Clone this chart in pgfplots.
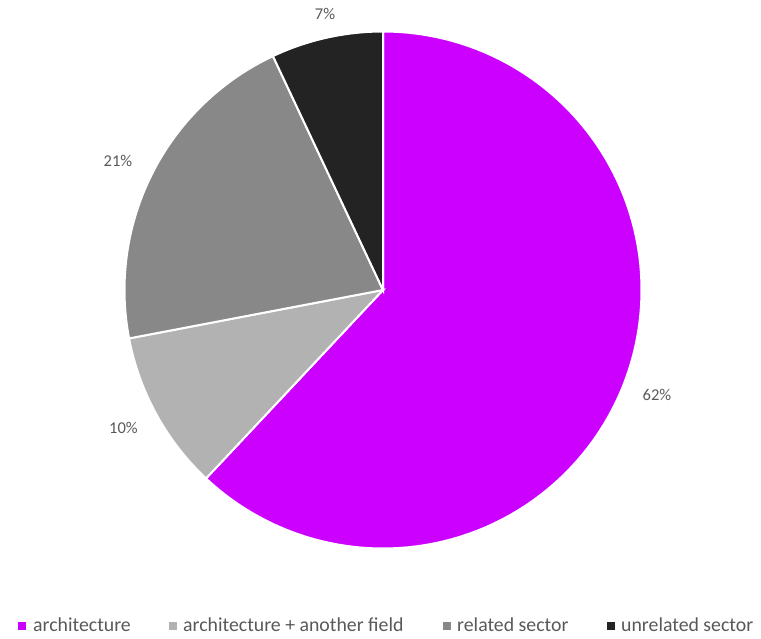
\documentclass[border=0pt]{standalone}
\usepackage{pgfplots}
\pgfplotsset{compat=1.18}
\usepackage{fontspec}
\setmainfont{Carlito}
\definecolor{cArch}{HTML}{CC00FF}
\definecolor{cArchOther}{HTML}{B2B2B2}
\definecolor{cRelated}{HTML}{888888}
\definecolor{cUnrelated}{HTML}{232323}
\definecolor{txt}{HTML}{595959}
\begin{document}
\begin{tikzpicture}
\begin{axis}[
  hide axis,
  x=1bp, y=1bp,
  xmin=0, xmax=761, ymin=0, ymax=639,
  clip=false,
]
\path (rel axis cs:0,0) rectangle (rel axis cs:1,1);
% slice shares in percent: 62, 10, 21, 7 (clockwise from 12 o'clock)
% architecture 62%
\addplot[fill=cArch, draw=white, line width=2bp, domain={90-3.6*62}:90, samples=160]
  ({383+258.5*cos(x)}, {349+258.5*sin(x)}) -- (axis cs:383,349) -- cycle;
% architecture + another field 10%
\addplot[fill=cArchOther, draw=white, line width=2bp, domain={90-3.6*72}:{90-3.6*62}, samples=40]
  ({383+258.5*cos(x)}, {349+258.5*sin(x)}) -- (axis cs:383,349) -- cycle;
% related sector 21%
\addplot[fill=cRelated, draw=white, line width=2bp, domain={90-3.6*93}:{90-3.6*72}, samples=70]
  ({383+258.5*cos(x)}, {349+258.5*sin(x)}) -- (axis cs:383,349) -- cycle;
% unrelated sector 7%
\addplot[fill=cUnrelated, draw=white, line width=2bp, domain={90-3.6*100}:{90-3.6*93}, samples=30]
  ({383+258.5*cos(x)}, {349+258.5*sin(x)}) -- (axis cs:383,349) -- cycle;

% data labels
\begin{scope}[every node/.style={text=txt, font=\fontsize{16.5bp}{19bp}\selectfont, inner sep=0pt}]
\node at (axis cs:657,244) {62\%};
\node at (axis cs:123.5,211) {10\%};
\node at (axis cs:118,478) {21\%};
\node at (axis cs:325,625) {7\%};
\end{scope}

% legend
\begin{scope}[every node/.style={text=txt, font=\fontsize{19.8bp}{23bp}\selectfont, inner sep=0pt, anchor=base west}]
\fill[cArch] (axis cs:18,9) rectangle (axis cs:26,17);
\node at (axis cs:33,7) {architecture};
\fill[cArchOther] (axis cs:169,9) rectangle (axis cs:177,17);
\node at (axis cs:183,7) {architecture + another field};
\fill[cRelated] (axis cs:443,9) rectangle (axis cs:451,17);
\node at (axis cs:457,7) {related sector};
\fill[cUnrelated] (axis cs:607,9) rectangle (axis cs:615,17);
\node at (axis cs:621,7) {unrelated sector};
\end{scope}
\end{axis}
\end{tikzpicture}
\end{document}
